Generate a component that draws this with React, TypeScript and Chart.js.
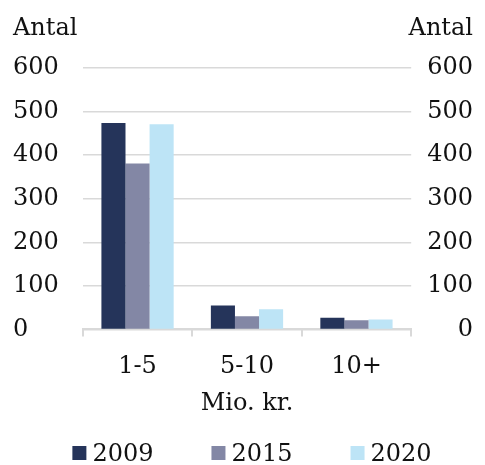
import React, { useEffect, useRef } from "react";
import { Chart, registerables } from "chart.js";

Chart.register(...registerables);

const categories = ["1-5", "5-10", "10+"];
const seriesNames = ["2009", "2015", "2020"];
const values2009 = [474, 55, 27];
const values2015 = [381, 30, 21];
const values2020 = [471, 46, 23];
const colors = ["#25345A", "#8387A5", "#BDE4F6"];
const yTitle = "Antal";
const xTitle = "Mio. kr.";

const FONT = "'DejaVu Serif', serif";
const TEXT = "#111111";
const GRID = "#D9D9D9";

const antalPlugin = {
  id: "antal",
  afterDraw(chart: any) {
    const ctx = chart.ctx;
    ctx.save();
    ctx.font = `24px ${FONT}`;
    ctx.fillStyle = TEXT;
    ctx.textBaseline = "alphabetic";
    ctx.textAlign = "left";
    ctx.fillText(yTitle, 13, 35);
    ctx.textAlign = "right";
    ctx.fillText(yTitle, 473, 35);
    ctx.restore();
  },
};

// Legend drawn from the datasets' own labels and colours
const bottomLegend = {
  id: "bottomLegend",
  afterDraw(chart: any) {
    const ctx = chart.ctx;
    const box = 14;
    const gapText = 6;
    const gapItem = 58;
    const centerX = 252;
    const baseline = 461;
    ctx.save();
    ctx.font = `24px ${FONT}`;
    ctx.textBaseline = "alphabetic";
    ctx.textAlign = "left";
    const items = chart.data.datasets.map((ds: any) => ({
      label: ds.label,
      color: ds.backgroundColor,
      w: box + gapText + ctx.measureText(ds.label).width,
    }));
    const total = items.reduce((s: number, it: any) => s + it.w, 0) + gapItem * (items.length - 1);
    let x = centerX - total / 2;
    for (const it of items) {
      ctx.fillStyle = it.color;
      ctx.fillRect(x, baseline - 15, box, box);
      ctx.fillStyle = TEXT;
      ctx.fillText(it.label, x + box + gapText, baseline);
      x += it.w + gapItem;
    }
    ctx.restore();
  },
};

export default function App() {
  const ref = useRef<HTMLCanvasElement>(null);
  useEffect(() => {
    if (!ref.current) return;
    const chart = new Chart(ref.current, {
      type: "bar",
      data: {
        labels: categories,
        datasets: [
          { label: seriesNames[0], data: values2009, backgroundColor: colors[0], yAxisID: "y" },
          { label: seriesNames[1], data: values2015, backgroundColor: colors[1], yAxisID: "y" },
          { label: seriesNames[2], data: values2020, backgroundColor: colors[2], yAxisID: "y" },
        ],
      },
      options: {
        animation: false,
        responsive: true,
        maintainAspectRatio: false,
        layout: { padding: { top: 68, left: 13, right: 12, bottom: 47 } },
        datasets: { bar: { categoryPercentage: 0.66, barPercentage: 1 } },
        plugins: {
          tooltip: { enabled: false },
          legend: { display: false },
        },
        scales: {
          x: {
            grid: { display: true, drawOnChartArea: false, color: GRID, lineWidth: 2, tickLength: 7, offset: true },
            border: { display: true, color: GRID, width: 2 },
            ticks: { color: TEXT, font: { family: FONT, size: 24 }, padding: 16 },
            title: { display: true, text: xTitle, color: TEXT, font: { family: FONT, size: 24 }, padding: { top: -8, bottom: 0 } },
          },
          y: {
            position: "left",
            min: 0,
            max: 600,
            ticks: { stepSize: 100, autoSkip: false, color: TEXT, font: { family: FONT, size: 24 }, padding: 12, crossAlign: "far" },
            grid: { color: GRID, lineWidth: 1.5, drawTicks: false },
            border: { display: false },
          },
          y1: {
            position: "right",
            min: 0,
            max: 600,
            ticks: { stepSize: 100, autoSkip: false, color: TEXT, font: { family: FONT, size: 24 }, padding: 8, crossAlign: "far" },
            grid: { drawOnChartArea: false, drawTicks: false },
            border: { display: false },
          },
        },
      },
      plugins: [antalPlugin, bottomLegend],
    });
    return () => chart.destroy();
  }, []);
  return (
    <div style={{ position: "fixed", left: 0, top: 0, width: 485, height: 465, background: "#fff" }}>
      <canvas ref={ref} />
    </div>
  );
}
